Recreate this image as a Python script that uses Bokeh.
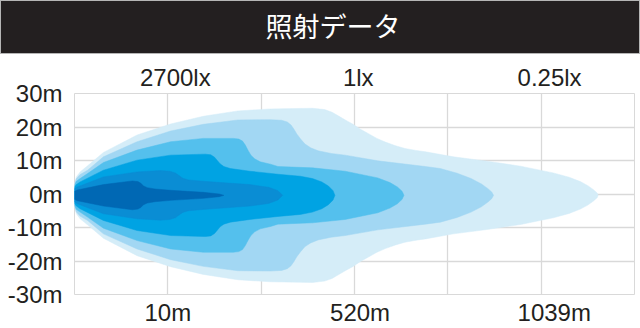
from bokeh.plotting import figure
from bokeh.models import Range1d, LinearAxis, FixedTicker, Div
from bokeh.layouts import column
from bokeh.embed import file_html
from bokeh.resources import INLINE

TITLE = "照射データ"
TOP_LABELS = {1.08: "2700lx", 3.04: "1lx", 5.09: "0.25lx"}
BOTTOM_LABELS = {1.0: "10m", 3.06: "520m", 5.14: "1039m"}
Y_TICKS = [-30, -20, -10, 0, 10, 20, 30]
Y_LABELS = {t: f"{t}m" for t in Y_TICKS}
X_GRID = [0, 1, 2, 3, 4, 5, 6]
CENTER = -0.4

# layer outlines: distance along beam (grid units) and half-width (m)
L1_X = [0, 0.02, 0.06, 0.14, 0.31, 0.67, 1.03, 1.38, 1.75, 2.10, 2.55, 2.68, 2.76, 2.84, 2.92, 2.98, 3.06, 3.15, 3.24, 3.33, 3.44, 3.54, 3.66, 3.76, 4.06, 4.42, 4.78, 5.13, 5.30, 5.42, 5.50, 5.56, 5.60, 5.61]
L1_W = [3.5, 5.5, 7.0, 8.8, 12.8, 18.0, 21.3, 23.6, 25.2, 25.8, 26.0, 25.6, 24.8, 23.5, 22.2, 21.3, 19.8, 18.4, 17.0, 15.9, 14.8, 14.0, 13.4, 13.0, 11.5, 10.2, 8.7, 6.7, 5.4, 4.1, 2.9, 1.7, 0.7, 0]
L2_X = [0, 0.02, 0.06, 0.14, 0.31, 0.67, 1.03, 1.38, 1.75, 2.10, 2.22, 2.28, 2.32, 2.35, 2.38, 2.42, 2.47, 2.53, 2.61, 2.75, 2.90, 3.25, 3.76, 3.92, 4.10, 4.25, 4.36, 4.43, 4.47, 4.49]
L2_W = [3.3, 5.0, 6.2, 7.5, 11.5, 16.0, 19.2, 21.2, 22.5, 22.6, 22.4, 21.9, 21.0, 19.8, 18.4, 16.9, 15.3, 14.2, 13.3, 12.5, 12.0, 10.3, 8.6, 8.0, 6.6, 5.0, 3.4, 2.0, 1.0, 0]
L3_X = [0, 0.02, 0.06, 0.14, 0.31, 0.67, 1.03, 1.38, 1.70, 1.76, 1.80, 1.83, 1.86, 1.89, 1.93, 1.99, 2.10, 2.18, 2.55, 2.90, 3.25, 3.38, 3.46, 3.51, 3.53]
L3_W = [3.0, 4.2, 5.0, 6.5, 9.8, 13.5, 16.0, 17.0, 17.0, 16.8, 16.2, 15.0, 13.4, 12.0, 10.9, 10.0, 9.3, 8.6, 8.2, 7.2, 5.2, 3.8, 2.5, 1.2, 0]
L4_X = [0, 0.02, 0.06, 0.31, 0.67, 1.03, 1.40, 1.46, 1.50, 1.53, 1.56, 1.60, 1.67, 1.88, 2.18, 2.42, 2.55, 2.65, 2.72, 2.77, 2.79]
L4_W = [2.5, 3.2, 4.0, 7.5, 10.5, 12.0, 12.3, 12.1, 11.4, 10.4, 9.4, 8.6, 8.0, 7.2, 6.3, 5.7, 5.0, 4.0, 2.8, 1.4, 0]
L5_X = [0, 0.03, 0.31, 0.67, 0.92, 1.02, 1.08, 1.12, 1.16, 1.22, 1.38, 1.88, 2.08, 2.18, 2.23]
L5_W = [2.0, 2.5, 5.5, 7.0, 7.4, 7.2, 6.7, 5.9, 5.1, 4.6, 4.2, 3.2, 2.4, 1.4, 0]
L6_X = [0, 0.03, 0.31, 0.62, 0.68, 0.71, 0.74, 0.78, 0.86, 1.03, 1.38, 1.55, 1.60]
L6_W = [1.2, 1.6, 3.2, 4.3, 4.1, 3.6, 2.8, 2.3, 1.9, 1.5, 0.9, 0.4, 0]

LAYERS = [(L1_X, L1_W), (L2_X, L2_W), (L3_X, L3_W), (L4_X, L4_W), (L5_X, L5_W), (L6_X, L6_W)]
COLORS = ["#d5edf8", "#a2d7f3", "#54c0ed", "#00a3e3", "#0a8dd4", "#0068b4"]

GRID = "#d9d9d9"
TEXT = "#231f20"
FONT = "Liberation Sans"

title = Div(
    text=(f'<div style="width:640px;height:54px;box-sizing:border-box;background:#231f20;'
          f'border:1px solid #b5b5b5;color:#ffffff;font-family:\'Noto Sans CJK JP\';'
          f'font-size:27px;line-height:50px;text-align:center;padding-left:26px;">{TITLE}</div>'),
    width=640, height=54, margin=(0, 0, 0, 0))

p = figure(frame_width=560, frame_height=201, output_backend="svg", toolbar_location=None,
           x_range=Range1d(0, 6), y_range=Range1d(-30, 30),
           min_border_left=74, min_border_right=6, min_border_top=39, min_border_bottom=34,
           x_axis_location=None, y_axis_location=None)
p.outline_line_color = GRID
p.background_fill_color = "white"
p.border_fill_color = "white"

for (xs, ws), col in zip(LAYERS, COLORS):
    px = list(xs) + list(reversed(xs))
    py = [CENTER + w for w in ws] + [CENTER - w for w in reversed(ws)]
    p.patch(px, py, fill_color=col, line_color=col, line_width=0.5)

def style(ax, standoff):
    ax.axis_line_color = None
    ax.major_tick_line_color = None
    ax.minor_tick_line_color = None
    ax.major_tick_out = 0
    ax.major_tick_in = 0
    ax.major_label_standoff = standoff
    ax.major_label_text_font = FONT
    ax.major_label_text_font_size = "24px"
    ax.major_label_text_color = TEXT

ax_top = LinearAxis(ticker=FixedTicker(ticks=list(TOP_LABELS)), major_label_overrides=TOP_LABELS)
style(ax_top, 3)
p.add_layout(ax_top, "above")
ax_bot = LinearAxis(ticker=FixedTicker(ticks=list(BOTTOM_LABELS)), major_label_overrides=BOTTOM_LABELS)
style(ax_bot, 4)
p.add_layout(ax_bot, "below")
ax_left = LinearAxis(ticker=FixedTicker(ticks=Y_TICKS), major_label_overrides=Y_LABELS)
style(ax_left, 12)
p.add_layout(ax_left, "left")

p.xgrid.ticker = FixedTicker(ticks=X_GRID)
p.ygrid.ticker = FixedTicker(ticks=Y_TICKS)
p.xgrid.grid_line_color = GRID
p.ygrid.grid_line_color = GRID
p.xgrid.grid_line_width = 1.3
p.ygrid.grid_line_width = 1.3

layout = column(title, p, spacing=0)
open("out.html", "w").write(file_html(layout, INLINE))
